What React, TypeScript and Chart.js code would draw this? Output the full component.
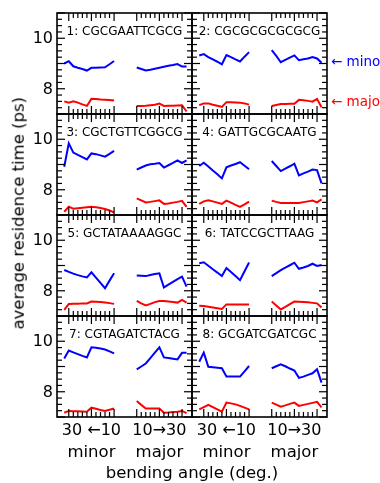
import React, { useEffect, useRef } from "react";
import { Chart, registerables } from "chart.js";
Chart.register(...registerables);

// ---------- data ----------
const ANGLES = [10, 12, 14, 16, 18, 20, 22, 24, 26, 28, 30, 32];
const TICK_ANGLES = [10, 12, 14, 16, 18, 20, 22, 24, 26, 28, 30];
const Y_TICK_LABELS = [8, 10];
const SEG_LABELS = ["30 ←10", "10→30"];
const SEG_NAMES = ["minor", "major"];
const SEQUENCES = [
  "1: CGCGAATTCGCG",
  "2: CGCGCGCGCGCG",
  "3: CGCTGTTCGGCG",
  "4: GATTGCGCAATG",
  "5: GCTATAAAAGGC",
  "6: TATCCGCTTAAG",
  "7: CGTAGATCTACG",
  "8: GCGATCGATCGC",
];

// values listed at ANGLES (10 → 32 deg)
const minorBlue1 = [9.1, 8.97, 8.85, 8.84, 8.83, 8.83, 8.72, 8.78, 8.83, 8.89, 9.09, 9.0];
const majorBlue1 = [8.84, 8.78, 8.72, 8.75, 8.79, 8.83, 8.87, 8.91, 8.94, 8.98, 8.88, 8.88];
const minorRed1 = [7.53, 7.55, 7.56, 7.57, 7.59, 7.6, 7.32, 7.38, 7.45, 7.5, 7.45, 7.5];
const majorRed1 = [7.32, 7.32, 7.33, 7.35, 7.37, 7.41, 7.32, 7.33, 7.33, 7.34, 7.35, 7.1];

const minorBlue2 = [9.45, 9.27, 9.08, 9.16, 9.25, 9.33, 8.97, 9.07, 9.16, 9.25, 9.37, 9.32];
const majorBlue2 = [9.53, 9.3, 9.05, 9.14, 9.23, 9.32, 9.13, 9.17, 9.2, 9.26, 9.2, 9.03];
const minorRed2 = [7.37, 7.42, 7.45, 7.46, 7.47, 7.47, 7.28, 7.33, 7.37, 7.42, 7.42, 7.35];
const majorRed2 = [7.32, 7.36, 7.4, 7.4, 7.41, 7.41, 7.56, 7.54, 7.52, 7.49, 7.6, 7.27];

const minorBlue3 = [9.54, 9.42, 9.31, 9.36, 9.41, 9.44, 9.2, 9.29, 9.38, 9.47, 9.84, 8.91];
const majorBlue3 = [8.8, 8.88, 8.96, 9.01, 9.03, 9.06, 8.88, 8.97, 9.06, 9.16, 9.06, 9.16];
const minorRed3 = [7.1, 7.18, 7.24, 7.28, 7.31, 7.33, 7.31, 7.29, 7.27, 7.25, 7.33, 7.13];
const majorRed3 = [7.66, 7.58, 7.5, 7.52, 7.55, 7.58, 7.44, 7.46, 7.49, 7.52, 7.56, 7.32];

const minorBlue4 = [8.81, 8.95, 9.09, 9.02, 8.96, 8.89, 8.45, 8.61, 8.76, 8.92, 9.07, 8.94];
const majorBlue4 = [9.14, 8.94, 8.74, 8.84, 8.93, 9.03, 8.57, 8.65, 8.72, 8.8, 8.78, 8.25];
const minorRed4 = [7.53, 7.42, 7.32, 7.4, 7.49, 7.57, 7.44, 7.49, 7.54, 7.58, 7.54, 7.44];
const majorRed4 = [7.57, 7.52, 7.48, 7.48, 7.48, 7.48, 7.48, 7.51, 7.54, 7.57, 7.5, 7.62];

const minorBlue5 = [8.69, 8.4, 8.1, 8.31, 8.52, 8.73, 8.53, 8.57, 8.62, 8.68, 8.75, 8.82];
const majorBlue5 = [8.6, 8.59, 8.58, 8.62, 8.66, 8.69, 8.13, 8.24, 8.35, 8.46, 8.56, 8.16];
const minorRed5 = [7.48, 7.51, 7.53, 7.55, 7.56, 7.57, 7.5, 7.5, 7.49, 7.49, 7.48, 7.24];
const majorRed5 = [7.6, 7.5, 7.42, 7.48, 7.55, 7.59, 7.59, 7.57, 7.55, 7.53, 7.64, 7.53];

const minorBlue6 = [9.12, 8.77, 8.42, 8.58, 8.74, 8.9, 8.58, 8.72, 8.85, 8.99, 9.13, 9.09];
const majorBlue6 = [8.58, 8.7, 8.82, 8.92, 9.01, 9.11, 8.87, 8.92, 8.98, 9.07, 8.98, 9.02];
const minorRed6 = [7.46, 7.46, 7.46, 7.46, 7.46, 7.46, 7.28, 7.31, 7.34, 7.37, 7.4, 7.41];
const majorRed6 = [7.57, 7.42, 7.26, 7.36, 7.47, 7.57, 7.56, 7.55, 7.54, 7.52, 7.5, 7.34];

const minorBlue7 = [9.52, 9.6, 9.67, 9.71, 9.74, 9.76, 9.36, 9.42, 9.49, 9.56, 9.63, 9.32];
const majorBlue7 = [8.89, 9.0, 9.12, 9.33, 9.55, 9.76, 9.36, 9.34, 9.31, 9.28, 9.54, 9.54];
const minorRed7 = [7.34, 7.29, 7.24, 7.28, 7.33, 7.37, 7.21, 7.22, 7.23, 7.23, 7.24, 7.17];
const majorRed7 = [7.63, 7.48, 7.34, 7.34, 7.34, 7.34, 7.17, 7.18, 7.2, 7.21, 7.24, 7.15];

const minorBlue8 = [9.02, 8.81, 8.6, 8.6, 8.6, 8.6, 8.93, 8.95, 8.97, 8.99, 9.55, 9.19];
const majorBlue8 = [8.93, 9.01, 9.09, 9.01, 8.92, 8.84, 8.55, 8.6, 8.67, 8.73, 8.89, 8.36];
const minorRed8 = [7.3, 7.37, 7.44, 7.5, 7.54, 7.57, 7.21, 7.3, 7.39, 7.48, 7.39, 7.3];
const majorRed8 = [7.57, 7.49, 7.41, 7.46, 7.52, 7.57, 7.44, 7.48, 7.52, 7.56, 7.6, 7.38];

const PANELS = [
  [minorBlue1, majorBlue1, minorRed1, majorRed1],
  [minorBlue2, majorBlue2, minorRed2, majorRed2],
  [minorBlue3, majorBlue3, minorRed3, majorRed3],
  [minorBlue4, majorBlue4, minorRed4, majorRed4],
  [minorBlue5, majorBlue5, minorRed5, majorRed5],
  [minorBlue6, majorBlue6, minorRed6, majorRed6],
  [minorBlue7, majorBlue7, minorRed7, majorRed7],
  [minorBlue8, majorBlue8, minorRed8, majorRed8],
];

// ---------- layout ----------
const FONT = '"DejaVu Sans", sans-serif';
const COL_X = [57, 192];
const ROW_Y = [13, 114, 215, 316];
const PW = 135;
const PH = 101;
const X_MIN = -5.2;
const X_MAX = 54.4;
const Y_MIN = 7;
const Y_MAX = 11;
const BLUE = "#0000ff";
const RED = "#ff0000";
const TICK_LONG = 8;
const TICK_SHORT = 5;

const minorX = (a: number) => 30 - a;
const majorX = (a: number) => a + 20;

function drawTicks(chart: any) {
  const { ctx, chartArea: a } = chart;
  const x = chart.scales.x;
  const y = chart.scales.y;
  ctx.save();
  ctx.fillStyle = "#000";
  const tw = 1.2;
  for (const seg of [0, 1]) {
    for (const ang of TICK_ANGLES) {
      const u = seg === 0 ? minorX(ang) : majorX(ang);
      const px = x.getPixelForValue(u);
      const len = ang % 10 === 0 ? TICK_LONG : TICK_SHORT;
      ctx.fillRect(px - tw / 2, a.bottom - len, tw, len);
      ctx.fillRect(px - tw / 2, a.top, tw, len);
    }
  }
  for (let k = 0; k <= (Y_MAX - Y_MIN) * 4; k++) {
    const v = Y_MIN + k * 0.25;
    const py = y.getPixelForValue(v);
    const len = k % 4 === 0 ? TICK_LONG : TICK_SHORT;
    ctx.fillRect(a.left, py - tw / 2, len, tw);
    ctx.fillRect(a.right - len, py - tw / 2, len, tw);
  }
  ctx.lineWidth = 1.6;
  ctx.strokeStyle = "#000";
  ctx.strokeRect(a.left, a.top, a.right - a.left, a.bottom - a.top);
  ctx.restore();
}

const panelDeco = {
  id: "panelDeco",
  afterDatasetsDraw(chart: any) {
    drawTicks(chart);
  },
  afterDraw(chart: any, _args: any, opts: any) {
    const { ctx, chartArea: a } = chart;
    const x = chart.scales.x;
    const y = chart.scales.y;
    ctx.save();
    ctx.fillStyle = "#000";
    ctx.font = `12px ${FONT}`;
    ctx.textAlign = "center";
    ctx.textBaseline = "alphabetic";
    ctx.fillText(opts.label, (a.left + a.right) / 2, a.top + 21.5);
    if (opts.showY) {
      ctx.font = `16px ${FONT}`;
      ctx.textAlign = "right";
      ctx.textBaseline = "middle";
      for (const v of Y_TICK_LABELS) {
        ctx.fillText(String(v), a.left - 4, y.getPixelForValue(v) + 1);
      }
    }
    if (opts.showX) {
      ctx.textAlign = "center";
      ctx.textBaseline = "alphabetic";
      for (const seg of [0, 1]) {
        const cx = x.getPixelForValue(seg === 0 ? minorX(20) : majorX(20));
        ctx.font = `16px ${FONT}`;
        ctx.fillText(SEG_LABELS[seg], cx, a.bottom + 18);
        ctx.font = `16.5px ${FONT}`;
        ctx.fillText(SEG_NAMES[seg], cx, a.bottom + 39.5);
      }
    }
    ctx.restore();
  },
};

function Panel({ idx }: { idx: number }) {
  const ref = useRef<HTMLCanvasElement | null>(null);
  const col = idx % 2;
  const row = Math.floor(idx / 2);
  const padL = col === 0 ? 57 : 3;
  const padR = 3;
  const padT = 3;
  const padB = row === 3 ? 50 : 3;
  const w = PW + padL + padR;
  const h = PH + padT + padB;

  useEffect(() => {
    const [mb, jb, mr, jr] = PANELS[idx];
    const mk = (vals: number[], f: (a: number) => number) =>
      ANGLES.map((ang, i) => ({ x: f(ang), y: vals[i] }));
    const chart = new Chart(ref.current as HTMLCanvasElement, {
      type: "line",
      data: {
        datasets: [
          { data: mk(mb, minorX), borderColor: BLUE },
          { data: mk(jb, majorX), borderColor: BLUE },
          { data: mk(mr, minorX), borderColor: RED },
          { data: mk(jr, majorX), borderColor: RED },
        ],
      },
      options: {
        animation: false,
        responsive: false,
        maintainAspectRatio: false,
        layout: { padding: { left: padL, right: padR, top: padT, bottom: padB } },
        elements: {
          point: { radius: 0 },
          line: { borderWidth: 2, tension: 0, fill: false },
        },
        scales: {
          x: { type: "linear", min: X_MIN, max: X_MAX, display: false },
          y: { type: "linear", min: Y_MIN, max: Y_MAX, display: false },
        },
        plugins: {
          legend: { display: false },
          tooltip: { enabled: false },
          panelDeco: { label: SEQUENCES[idx], showY: col === 0, showX: row === 3 },
        } as any,
      },
      plugins: [panelDeco],
    });
    return () => chart.destroy();
  }, [idx]);

  return (
    <canvas
      ref={ref}
      width={w}
      height={h}
      style={{
        position: "absolute",
        left: COL_X[col] - padL,
        top: ROW_Y[row] - padT,
        width: w,
        height: h,
      }}
    />
  );
}

export default function App() {
  const txt: React.CSSProperties = {
    position: "absolute",
    fontFamily: FONT,
    lineHeight: 1,
    whiteSpace: "nowrap",
  };
  return (
    <div
      style={{
        position: "absolute",
        left: 0,
        top: 0,
        width: 380,
        height: 483,
        overflow: "hidden",
        background: "#fff",
      }}
    >
      {PANELS.map((_, i) => (
        <Panel key={i} idx={i} />
      ))}
      <div
        style={{
          ...txt,
          fontSize: 16.5,
          left: 18.5 - 160,
          top: 213 - 8.25,
          width: 320,
          height: 16.5,
          textAlign: "center",
          transform: "rotate(-90deg)",
        }}
      >
        average residence time (ps)
      </div>
      <div style={{ ...txt, fontSize: 16.5, left: 192 - 200, width: 400, top: 465, textAlign: "center" }}>
        bending angle (deg.)
      </div>
      <div style={{ ...txt, fontSize: 13.5, left: 331, top: 55.2, color: BLUE }}>← minor</div>
      <div style={{ ...txt, fontSize: 13.5, left: 331, top: 95, color: RED }}>← major</div>
    </div>
  );
}
